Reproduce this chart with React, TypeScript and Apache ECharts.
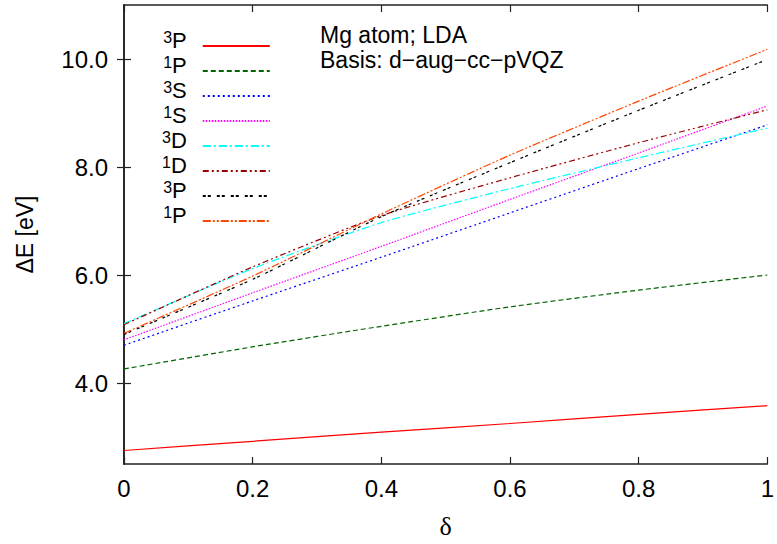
import { useEffect, useRef } from "react";
import * as echarts from "echarts";

// delta values where the excitation energies were read
const deltas = [0, 0.2, 0.4, 0.6, 0.8, 1.0];

// excitation energies [eV]
const p3a = [2.75, 2.92, 3.09, 3.25, 3.42, 3.58];
const p1a = [4.26, 4.67, 5.05, 5.41, 5.72, 6.0];
const s3 = [4.7, 5.52, 6.33, 7.15, 7.97, 8.78];
const s1 = [4.8, 5.67, 6.53, 7.4, 8.26, 9.13];
const d3 = [5.1, 6.12, 6.97, 7.6, 8.17, 8.72];
const d1 = [5.08, 6.15, 7.1, 7.8, 8.45, 9.06];
const p3b = [4.9, 5.92, 7.08, 8.08, 9.05, 9.99];
const p1b = [4.92, 5.98, 7.13, 8.22, 9.22, 10.18];

const stateLabels = ["3P", "1P", "3S", "1S", "3D", "1D", "3P", "1P"];
const yTicks = [4, 6, 8, 10];

const lineColors = [
  "#ff0000",
  "#006400",
  "#0000ff",
  "#ff00ff",
  "#00ffff",
  "#990000",
  "#000000",
  "#ff4500",
];
const lineDashes: (string | number[])[] = [
  "solid",
  [5, 3],
  [2, 3],
  [1.5, 1.5],
  [8, 3, 2, 3],
  [6, 3, 2, 3, 2, 3],
  [3, 2, 3, 6],
  [8, 2, 2, 2, 2, 2],
];

const SANS = "'Liberation Sans', Arial, Helvetica, sans-serif";
const AXIS = "#222";

export default function App() {
  const chartRef = useRef<HTMLDivElement>(null);

  useEffect(() => {
    const chart = echarts.init(chartRef.current, null, { renderer: "svg" });
    const values = [p3a, p1a, s3, s1, d3, d1, p3b, p1b];

    const series = values.map((vals, i) => ({
      name: `${stateLabels[i]}#${i}`,
      type: "line",
      data: deltas.map((d, j) => [d, vals[j]]),
      symbol: "none",
      smooth: 0.2,
      lineStyle: { color: lineColors[i], width: 1.2, type: lineDashes[i] },
      itemStyle: { color: lineColors[i] },
    }));

    const tickStyle = { inside: true, length: 7, lineStyle: { color: AXIS, width: 1.2 } };
    const lineStyle = { lineStyle: { color: AXIS, width: 1.6 } };

    chart.setOption({
      animation: false,
      backgroundColor: "#fff",
      textStyle: { fontFamily: SANS, color: "#000" },
      grid: { left: 124, right: 4, top: 5, bottom: 78, containLabel: false },
      title: {
        text: "Mg atom; LDA\nBasis: d\u2212aug\u2212cc\u2212pVQZ",
        left: 320,
        top: 22,
        padding: 0,
        textStyle: { fontFamily: SANS, fontSize: 23, fontWeight: "normal", lineHeight: 25, color: "#000" },
      },
      legend: {
        orient: "vertical",
        left: 157,
        top: 20,
        align: "right",
        itemWidth: 67,
        itemHeight: 12,
        itemGap: -1,
        selectedMode: false,
        itemStyle: { opacity: 0 },
        data: series.map((s) => s.name),
        formatter: (name: string) => {
          const lab = name.split("#")[0];
          return `{sup|${lab[0]}}{main|${lab[1]}}`;
        },
        textStyle: {
          color: "#000",
          padding: [0, 11, 12, 0],
          rich: {
            sup: { fontSize: 16, fontFamily: SANS, lineHeight: 14, verticalAlign: "top" },
            main: { fontSize: 22, fontFamily: SANS, lineHeight: 22, padding: [4, 0, 0, 0], verticalAlign: "bottom" },
          },
        },
      },
      xAxis: [
        {
          type: "value",
          min: 0,
          max: 1,
          interval: 0.2,
          name: "\u03b4",
          nameLocation: "middle",
          nameGap: 49,
          nameTextStyle: { fontFamily: "'Liberation Serif', 'Times New Roman', serif", fontSize: 26, color: "#000" },
          axisLine: lineStyle,
          axisTick: tickStyle,
          splitLine: { show: false },
          axisLabel: {
            margin: 12,
            fontSize: 24,
            color: "#000",
            formatter: (v: number) => (v === 0 ? "0" : v === 1 ? "1" : v.toFixed(1)),
          },
        },
        {
          type: "value",
          position: "top",
          min: 0,
          max: 1,
          interval: 0.2,
          axisLine: lineStyle,
          axisTick: tickStyle,
          splitLine: { show: false },
          axisLabel: { show: false },
        },
      ],
      yAxis: [
        {
          type: "value",
          min: 2.5,
          max: 11,
          name: "\u0394E [eV]",
          nameLocation: "middle",
          nameRotate: 90,
          nameGap: 88,
          nameTextStyle: { fontFamily: SANS, fontSize: 23, color: "#000" },
          axisLine: lineStyle,
          axisTick: { ...tickStyle, customValues: yTicks },
          splitLine: { show: false },
          axisLabel: {
            margin: 16,
            fontSize: 24,
            color: "#000",
            customValues: yTicks,
            formatter: (v: number) => v.toFixed(1),
          },
        },
        {
          type: "value",
          position: "right",
          min: 2.5,
          max: 11,
          axisLine: lineStyle,
          axisTick: { ...tickStyle, customValues: yTicks },
          splitLine: { show: false },
          axisLabel: { show: false, customValues: yTicks },
        },
      ],
      series,
    });

    return () => {
      chart.dispose();
    };
  }, []);

  return (
    <div
      ref={chartRef}
      style={{ position: "fixed", left: 0, top: 0, width: 777, height: 544 }}
    />
  );
}
